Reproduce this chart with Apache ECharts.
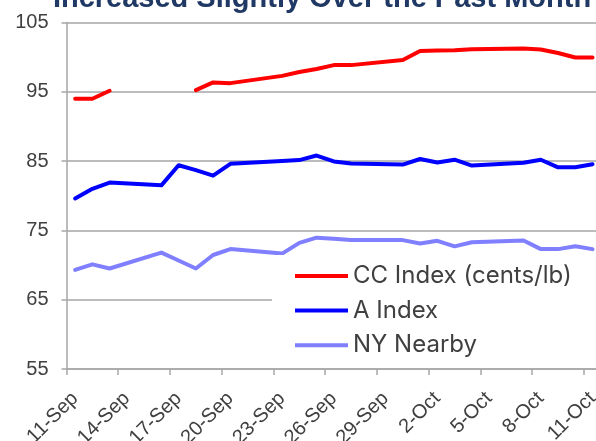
<!DOCTYPE html>
<html>
<head>
<meta charset="utf-8">
<script src="https://cdn.jsdelivr.net/npm/echarts@6/dist/echarts.min.js"></script>
<style>
  html, body { margin: 0; padding: 0; background: #ffffff; }
  #chart { width: 596px; height: 441px; }
</style>
</head>
<body>
<div id="chart"></div>
<script>
// ---- data ----
const titleText = 'Increased Slightly Over the Past Month';
const axisStart = '2024-09-11';
const tickLabels = ['11-Sep', '14-Sep', '17-Sep', '20-Sep', '23-Sep', '26-Sep', '29-Sep', '2-Oct', '5-Oct', '8-Oct', '11-Oct'];
const yTicks = [55, 65, 75, 85, 95, 105];
const dates = ['2024-09-11', '2024-09-12', '2024-09-13', '2024-09-16', '2024-09-17', '2024-09-18', '2024-09-19', '2024-09-20',
  '2024-09-23', '2024-09-24', '2024-09-25', '2024-09-26', '2024-09-27', '2024-09-30',
  '2024-10-01', '2024-10-02', '2024-10-03', '2024-10-04', '2024-10-07', '2024-10-08', '2024-10-09', '2024-10-10', '2024-10-11'];
const ccIndex = [94.0, 94.0, 95.15, null, null, 95.25, 96.35, 96.25, 97.3, 97.85, 98.3, 98.85, 98.85, 99.6,
  100.9, 100.95, 101.0, 101.15, 101.25, 101.1, 100.6, 99.95, 99.95];
const aIndex = [79.6, 81.0, 81.9, 81.5, 84.4, 83.7, 82.9, 84.6, 85.0, 85.15, 85.8, 84.95, 84.65, 84.5,
  85.3, 84.8, 85.2, 84.35, 84.75, 85.2, 84.1, 84.1, 84.55];
const nyNearby = [69.3, 70.1, 69.5, 71.8, 70.65, 69.5, 71.45, 72.3, 71.65, 73.2, 73.95, 73.8, 73.6, 73.6,
  73.1, 73.5, 72.7, 73.3, 73.55, 72.3, 72.3, 72.7, 72.3];
const seriesNames = ['CC Index (cents/lb)', 'A Index', 'NY Nearby'];
const seriesColors = ['#ff0000', '#0000ff', '#7f7fff'];

// ---- helpers ----
const DAY = 864e5;
const t0 = Date.parse(axisStart + 'T00:00:00Z');
// Excel date axis, points placed between tick marks (middle of the day)
function dayPos(d) { return (Date.parse(d + 'T00:00:00Z') - t0) / DAY + 0.5; }
function pairs(vals) { return dates.map((d, i) => [dayPos(d), vals[i]]); }

const gridColor = '#a6a6a6';
const chart = echarts.init(document.getElementById('chart'), null, { renderer: 'canvas' });

const lineSeries = [ccIndex, aIndex, nyNearby].map((vals, i) => ({
  name: seriesNames[i],
  type: 'line',
  data: pairs(vals),
  showSymbol: false,
  symbol: 'none',
  connectNulls: false,
  color: seriesColors[i],
  lineStyle: { width: 4, color: seriesColors[i], cap: 'round', join: 'round' },
  animation: false,
  z: 3
}));

chart.setOption({
  animation: false,
  backgroundColor: '#ffffff',
  title: {
    text: titleText,
    left: 317,
    top: -21,
    textAlign: 'center',
    textStyle: { fontFamily: 'Liberation Sans', fontWeight: 'bold', fontSize: 29, color: '#1f3864' }
  },
  grid: { left: 66.5, right: 0, top: 22.5, bottom: 72, containLabel: false, outerBoundsMode: 'none' },
  xAxis: {
    type: 'value',
    min: 0,
    max: 30.7,
    interval: 3,
    axisLine: { show: true, lineStyle: { color: gridColor, width: 1.5 } },
    axisTick: { show: true, length: 6, lineStyle: { color: gridColor, width: 1.5 } },
    splitLine: { show: false },
    axisLabel: {
      rotate: 45,
      margin: 18,
      verticalAlign: 'top',
      showMaxLabel: false,
      hideOverlap: false,
      fontFamily: 'Liberation Sans',
      fontSize: 20,
      lineHeight: 24,
      color: '#404040',
      formatter: v => tickLabels[Math.round(v / 3)] || ''
    }
  },
  yAxis: {
    type: 'value',
    min: yTicks[0],
    max: yTicks[yTicks.length - 1],
    interval: 10,
    axisLine: { show: true, lineStyle: { color: gridColor, width: 1.5 } },
    axisTick: { show: true, length: 5, lineStyle: { color: gridColor, width: 1.5 } },
    splitLine: { show: true, lineStyle: { color: gridColor, width: 1.5 } },
    axisLabel: { margin: 18, fontFamily: 'Liberation Sans', fontSize: 20, color: '#404040' }
  },
  legend: {
    orient: 'vertical',
    left: 272,
    top: 255,
    padding: [9, 30, 8, 23],
    backgroundColor: '#ffffff',
    itemWidth: 53,
    itemHeight: 4,
    itemGap: 10.6,
    icon: 'rect',
    data: seriesNames,
    textStyle: { fontFamily: 'Inter', fontSize: 24, color: '#404040', lineHeight: 24 },
    z: 5
  },
  series: lineSeries
});
</script>
</body>
</html>
